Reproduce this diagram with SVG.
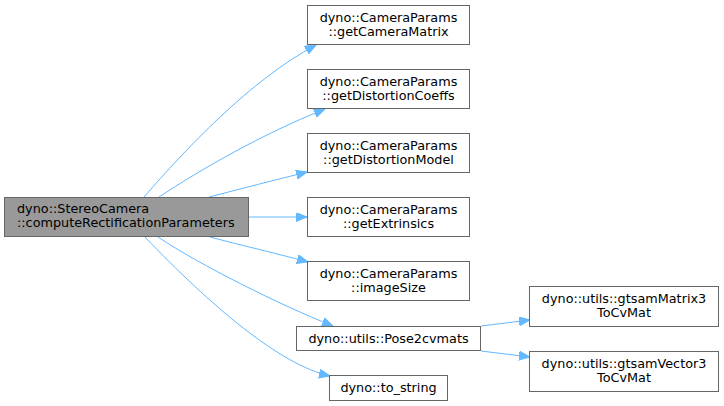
<svg xmlns="http://www.w3.org/2000/svg" width="724" height="406" viewBox="0 0 724 406">
<style>
.n rect{fill:#ffffff;stroke:#666666;stroke-width:1}
.n.main rect{fill:#999999}
.n text{font-family:"DejaVu Sans",sans-serif;font-size:12.8px;text-anchor:middle;fill:#000000}
.n.main text{text-anchor:start}
.e path{fill:none;stroke:#63b8ff;stroke-width:1;marker-end:url(#ah)}
</style>
<defs>
<marker id="ah" markerUnits="userSpaceOnUse" markerWidth="12" markerHeight="10" refX="11" refY="4.5" orient="auto">
<path d="M0,0 L11,4.5 L0,9 z" fill="#63b8ff" stroke="#63b8ff" stroke-width="1"/>
</marker>
</defs>
<rect width="724" height="406" fill="#ffffff"/>
<g id="edges" class="e">
<path d="M144,197 C185,150 250,80 316,45"/>
<path d="M159,197 C200,170 260,135 325,109"/>
<path d="M209,197 C240,189 275,180 307,172"/>
<path d="M248,217 L307,217"/>
<path d="M210,237 C240,245 275,253 308,262"/>
<path d="M158,237 C200,265 280,305 333,326"/>
<path d="M145,237 C210,305 280,365 330,376"/>
<path d="M481,326 L530,320"/>
<path d="M481,351 L530,357"/>
</g>
<g id="node-main" class="n main">
<rect x="4.5" y="197.5" width="244" height="39"/>
<text x="17" y="213">dyno::StereoCamera</text>
<text x="17" y="227">::computeRectificationParameters</text>
</g>
<g id="node-getCameraMatrix" class="n">
<rect x="307.5" y="5.5" width="162" height="39"/>
<text x="388.5" y="22">dyno::CameraParams</text>
<text x="388.5" y="36">::getCameraMatrix</text>
</g>
<g id="node-getDistortionCoeffs" class="n">
<rect x="307.5" y="69.5" width="162" height="39"/>
<text x="388.5" y="86">dyno::CameraParams</text>
<text x="388.5" y="100">::getDistortionCoeffs</text>
</g>
<g id="node-getDistortionModel" class="n">
<rect x="307.5" y="133.5" width="162" height="39"/>
<text x="388.5" y="150">dyno::CameraParams</text>
<text x="388.5" y="164">::getDistortionModel</text>
</g>
<g id="node-getExtrinsics" class="n">
<rect x="307.5" y="197.5" width="162" height="39"/>
<text x="388.5" y="214">dyno::CameraParams</text>
<text x="388.5" y="228">::getExtrinsics</text>
</g>
<g id="node-imageSize" class="n">
<rect x="307.5" y="261.5" width="162" height="39"/>
<text x="388.5" y="278">dyno::CameraParams</text>
<text x="388.5" y="292">::imageSize</text>
</g>
<g id="node-Pose2cvmats" class="n">
<rect x="296.5" y="326.5" width="184" height="24"/>
<text x="388.5" y="343">dyno::utils::Pose2cvmats</text>
</g>
<g id="node-to_string" class="n">
<rect x="329.5" y="375.5" width="118" height="25"/>
<text x="388.5" y="392">dyno::to_string</text>
</g>
<g id="node-gtsamMatrix3ToCvMat" class="n">
<rect x="529.5" y="286.5" width="189" height="40"/>
<text x="624" y="302.5">dyno::utils::gtsamMatrix3</text>
<text x="624" y="316.5">ToCvMat</text>
</g>
<g id="node-gtsamVector3ToCvMat" class="n">
<rect x="529.5" y="351.5" width="189" height="40"/>
<text x="624" y="367.5">dyno::utils::gtsamVector3</text>
<text x="624" y="381.5">ToCvMat</text>
</g>
</svg>
